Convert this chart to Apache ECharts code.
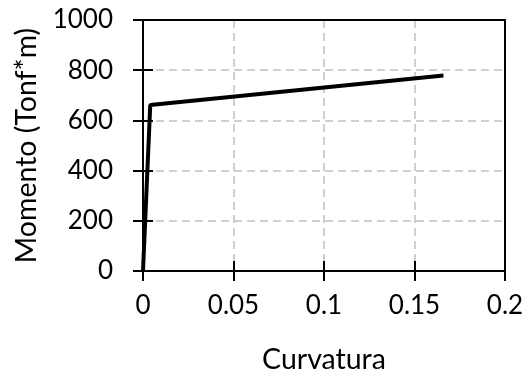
<!DOCTYPE html>
<html><head><meta charset="utf-8">
<script src="https://cdn.jsdelivr.net/npm/echarts@6/dist/echarts.min.js"></script>
<style>html,body{margin:0;padding:0;background:#fff}#c{width:528px;height:379px}</style>
</head><body><div id="c"></div>
<script>
const curvatura = [0, 0.004, 0.166];
const momento = [0, 661, 779];
const xTicks = ['0', '0.05', '0.1', '0.15', '0.2'];
const yTicks = ['0', '200', '400', '600', '800', '1000'];
const xTitle = 'Curvatura';
const yTitle = 'Momento (Tonf*m)';

const FONT = 'Lato';
const FS = 26;
const TFS = 28.5;
const chart = echarts.init(document.getElementById('c'), null, {renderer: 'canvas'});
const line = {show: true, onZero: false, lineStyle: {color: '#000', width: 2}};
const grid = {lineStyle: {color: '#c0c0c0', width: 1.5, type: [8, 5]}};
const tick = (inside) => ({show: true, inside: inside, length: 10, lineStyle: {color: '#000', width: 2}});
const xFmt = v => { const i = Math.round(v / 0.05); return xTicks[i] !== undefined ? xTicks[i] : ''; };
const yFmt = v => { const i = Math.round(v / 200); return yTicks[i] !== undefined ? yTicks[i] : ''; };
const xr = {type: 'value', min: 0, max: 0.2, interval: 0.05};
const yr = {type: 'value', min: 0, max: 1000, interval: 200};
chart.setOption({
  animation: false,
  grid: {left: 143, top: 20, width: 362, height: 256},
  xAxis: [
    Object.assign({}, xr, {
      position: 'bottom', axisLine: line,
      name: xTitle, nameLocation: 'middle', nameGap: 74,
      nameTextStyle: {fontFamily: FONT, fontSize: TFS, color: '#000'},
      axisLabel: {formatter: xFmt, fontFamily: FONT, fontSize: FS, color: '#000', margin: 22},
      axisTick: tick(false),
      splitLine: Object.assign({show: true}, grid)
    }),
    Object.assign({}, xr, {
      position: 'bottom', axisLine: line, axisLabel: {show: false},
      axisTick: tick(true), splitLine: {show: false}
    }),
    Object.assign({}, xr, {
      position: 'top', axisLine: line, axisLabel: {show: false},
      axisTick: {show: false}, splitLine: {show: false}, z: 10
    })
  ],
  yAxis: [
    Object.assign({}, yr, {
      position: 'left', axisLine: line,
      name: yTitle, nameLocation: 'middle', nameGap: 100, nameRotate: 90,
      nameTextStyle: {fontFamily: FONT, fontSize: TFS, color: '#000'},
      axisLabel: {formatter: yFmt, fontFamily: FONT, fontSize: FS, color: '#000', margin: 30},
      axisTick: tick(false),
      splitLine: Object.assign({show: true}, grid)
    }),
    Object.assign({}, yr, {
      position: 'left', axisLine: line, axisLabel: {show: false},
      axisTick: tick(true), splitLine: {show: false}
    }),
    Object.assign({}, yr, {
      position: 'right', axisLine: line, axisLabel: {show: false},
      axisTick: {show: false}, splitLine: {show: false}, z: 10
    })
  ],
  series: [{
    type: 'line',
    data: curvatura.map((x, i) => [x, momento[i]]),
    showSymbol: false,
    lineStyle: {color: '#000', width: 4},
    z: 5
  }]
});
</script></body></html>
